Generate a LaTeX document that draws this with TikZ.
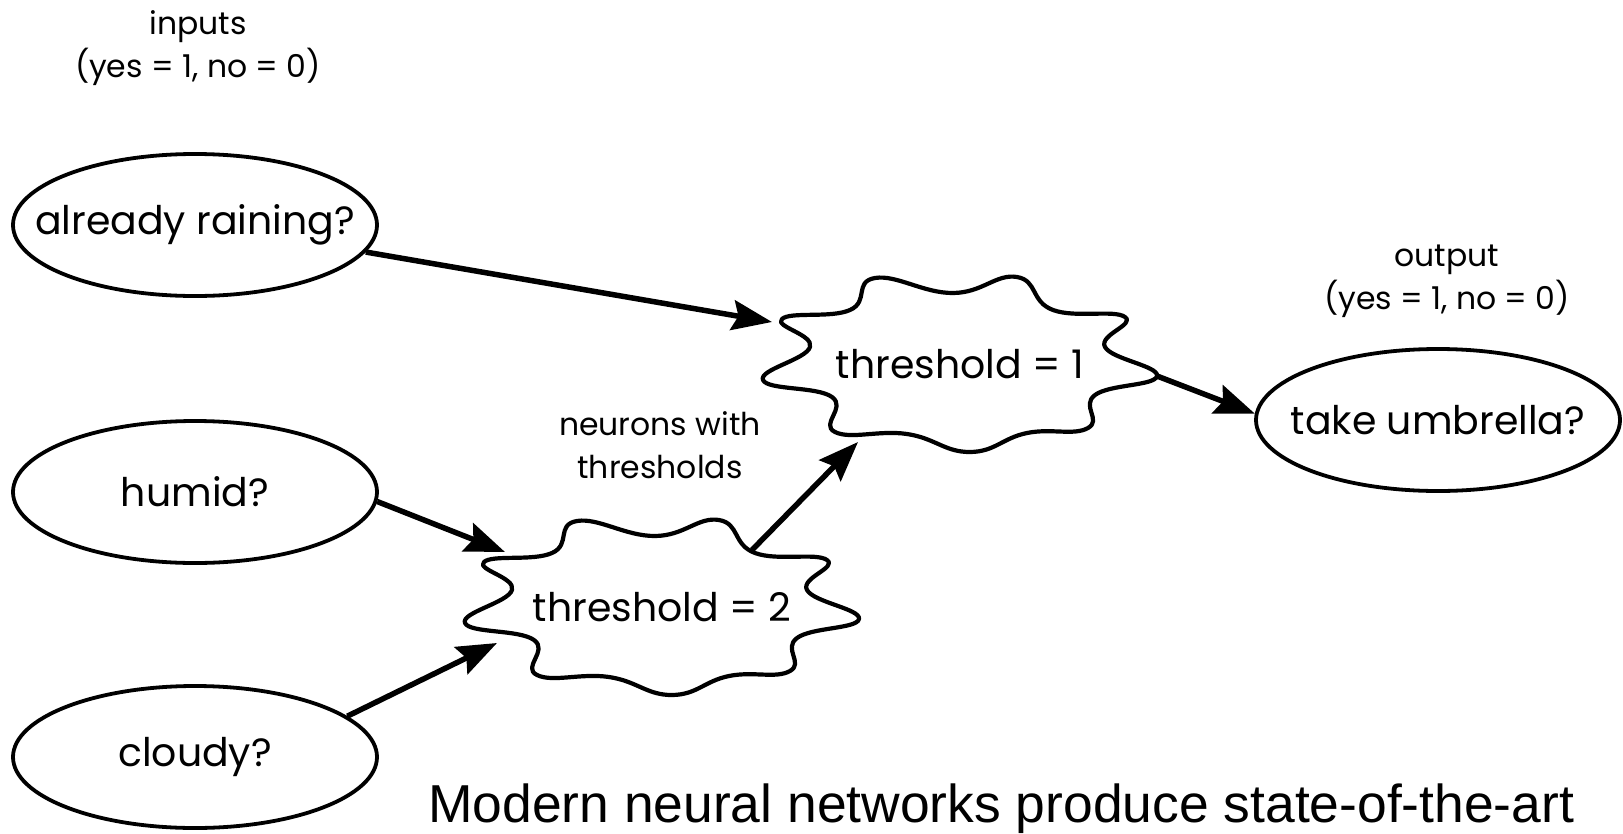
\documentclass[tikz,border=0pt]{standalone}
\usepackage{fontspec}
\setmainfont{Poppins}
\newfontfamily\capfont{Liberation Sans}
\usetikzlibrary{arrows.meta,shapes.geometric}

\newlength\probe
\newcommand\bigfont{\fontsize{\mainsize pt}{\mainskip pt}\selectfont}
\newcommand\smallfont{\fontsize{\smallsize pt}{43pt}\selectfont}
\newcommand\bottomfont{\capfont\fontsize{\capsize pt}{\capskip pt}\selectfont}

% wavy outline of a threshold unit, relative to its centre (y grows downwards)
\newcommand\wavy{plot[smooth cycle, tension=0.75] coordinates {
  (-197,16) (-150,-17) (-178,-45) (-110,-54) (-85,-86) (-7,-71)
  (57,-87) (93,-54) (165,-47) (145,-17) (197,12) (135,31)
  (128,64) (67,69) (10,88) (-53,70) (-125,68) (-128,33)}}

\tikzset{
  inputnode/.style={ellipse, draw, line width=3.8pt, minimum width=364pt,
    minimum height=142pt, inner sep=0pt, font=\bigfont},
  neuron/.style={inner sep=0pt, font=\bigfont},
  note/.style={inner sep=0pt, align=center, font=\smallfont},
  capnode/.style={inner sep=0pt, font=\bottomfont},
  cloudline/.style={draw, line width=4.2pt, line join=round},
  arr/.style={line width=5.5pt, -{Stealth[length=40pt, width=30pt, inset=6pt]}},
}

\begin{document}
% font sizes from the spans the labels should occupy
\settowidth\probe{\fontsize{10pt}{12pt}\selectfont already raining?}%
\pgfmathsetmacro\mainsize{10*320/\probe}%
\pgfmathsetmacro\mainskip{1.2*\mainsize}%
\settowidth\probe{\fontsize{10pt}{12pt}\selectfont (yes = 1, no = 0)}%
\pgfmathsetmacro\smallsize{10*246/\probe}%
\settowidth\probe{\capfont\fontsize{10pt}{12pt}\selectfont Modern neural networks produce state-of-the-art}%
\pgfmathsetmacro\capsize{10*1146/\probe}%
\pgfmathsetmacro\capskip{1.2*\capsize}%
\begin{tikzpicture}[x=1pt, y=-1pt]
\useasboundingbox (0,0) rectangle (1623,833);

% inputs and output
\node[inputnode] (rain)   at (195,225)  {\makebox[0pt]{already raining?}};
\node[inputnode] (humid)  at (195,492)  {\makebox[0pt]{humid?}};
\node[inputnode] (cloudy) at (195,757)  {\makebox[0pt]{cloudy?}};
\node[inputnode] (umb)    at (1438,420) {\makebox[0pt]{take umbrella?}};

% threshold units
\node[neuron] (t1) at (960,364) {threshold = 1};
\node[neuron] (t2) at (662,607) {threshold = 2};
\draw[cloudline, shift={(t1.center)}] \wavy;
\draw[cloudline, shift={(t2.center)}] \wavy;

% connector ends on the wavy outlines
\path (t1) ++(-188,-42) coordinate (t1w);
\path (t1) ++(-102,78)  coordinate (t1sw);
\path (t1) ++(197,12)   coordinate (t1e);
\path (t2) ++(-157,-55) coordinate (t2nw);
\path (t2) ++(-165,36)  coordinate (t2sw);
\path (t2) ++(90,-57)   coordinate (t2ne);

% notes
\node[note] (inlbl)  at (198,48)  {inputs\\(yes = 1, no = 0)};
\node[note] (outlbl) at (1447,281) {output\\(yes = 1, no = 0)};
\node[note] (neulbl) at (660,445) {neurons with\\thresholds};

% connectors
\draw[arr] (rain.-9)    -- (t1w);
\draw[arr] (humid.-3.5) -- (t2nw);
\draw[arr] (cloudy.15)  -- (t2sw);
\draw[arr] (t2ne)       -- (t1sw);
\draw[arr] (t1e)        -- (umb.178);

% caption
\node[capnode, anchor=base west] (cap) at (428,822)
  {Modern neural networks produce state-of-the-art};
\end{tikzpicture}
\end{document}
